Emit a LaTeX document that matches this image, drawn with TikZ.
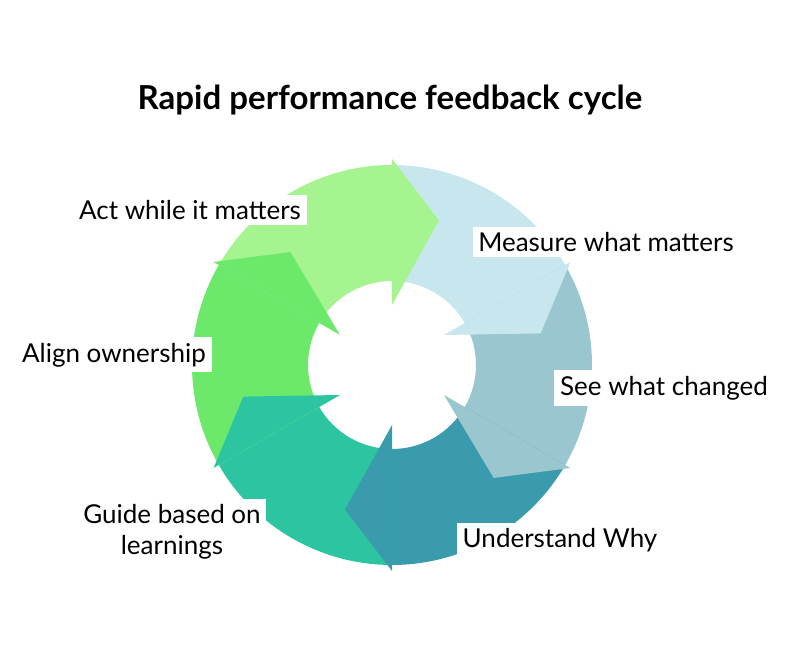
\documentclass[tikz,border=0pt]{standalone}
\usepackage{fontspec}
\setmainfont{Lato}
\usepackage{xcolor}
\definecolor{actcol}{HTML}{A6F490}
\definecolor{measurecol}{HTML}{C8E6EE}
\definecolor{seecol}{HTML}{9AC6CF}
\definecolor{whycol}{HTML}{3A9BAC}
\definecolor{guidecol}{HTML}{2DC5A1}
\definecolor{aligncol}{HTML}{6CE86B}
\newcommand{\rout}{5}
\newcommand{\rin}{2.1}
% band of one arrow, from base+60 to base
\newcommand{\cycband}[2]{%
  \fill[#1] (#2+60:\rout) arc[start angle=#2+60,end angle=#2,radius=\rout]
    -- (#2:\rin) arc[start angle=#2,end angle=#2+60,radius=\rin] -- cycle;}
% head of one arrow, base to tip
\newcommand{\cychead}[3]{%
  \fill[#1] (#2:\rout+0.15) -- (#3:3.8) -- (#2:1.5) -- cycle;}
\begin{document}
\begin{tikzpicture}[lbl/.style={fill=white,inner sep=4pt,font=\fontsize{18.5}{22}\selectfont,align=center}]
            \useasboundingbox (0,0) rectangle (20,16.25);
            \begin{scope}[shift={(9.8,7.125)}]
            \cycband{actcol}{90}
            \cycband{measurecol}{30}
            \cycband{seecol}{-30}
            \cycband{whycol}{-90}
            \cycband{guidecol}{-150}
            \cycband{aligncol}{150}
            \cychead{actcol}{90}{72}
            \cychead{measurecol}{30}{12}
            \cychead{seecol}{-30}{-48}
            \cychead{whycol}{-90}{-108}
            \cychead{guidecol}{-150}{-168}
            \cychead{aligncol}{150}{132}
            \end{scope}
            \node[font=\bfseries\fontsize{23.5}{28}\selectfont] (title) at (9.75,13.75) {Rapid performance feedback cycle};
            \node[lbl] (act) at (4.75,11) {Act while it matters};
            \node[lbl] (measure) at (15.15,10.2) {Measure what matters};
            \node[lbl] (align) at (2.85,7.38) {Align ownership};
            \node[lbl] (see) at (16.6,6.55) {See what changed};
            \node[lbl] (guide) at (4.3,2.95) {Guide based on\\learnings};
            \node[lbl] (why) at (14,2.75) {Understand Why};
             \end{tikzpicture}
\end{document}
